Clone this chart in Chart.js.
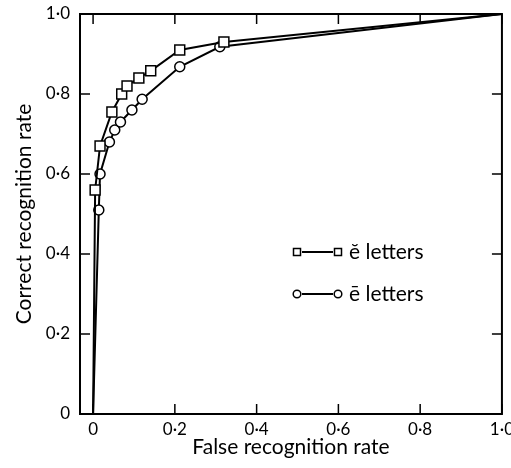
<!DOCTYPE html>
<html>
<head>
<meta charset="utf-8">
<script src="https://cdn.jsdelivr.net/npm/chart.js@4/dist/chart.umd.min.js"></script>
<style>
  html, body { margin: 0; padding: 0; background: #fff; }
  #wrap { width: 511px; height: 468px; }
</style>
</head>
<body>
<div id="wrap"><canvas id="rocChart" width="511" height="468"></canvas></div>
<script>
// short-e letters (squares)
const shortX = [0, 0.005, 0.017, 0.046, 0.07, 0.083, 0.112, 0.141, 0.212, 0.32, 1.0];
const shortY = [0, 0.56, 0.67, 0.755, 0.80, 0.82, 0.84, 0.858, 0.91, 0.93, 1.0];
// long-e letters (circles)
const longX = [0, 0.014, 0.017, 0.04, 0.053, 0.067, 0.095, 0.12, 0.212, 0.31, 1.0];
const longY = [0, 0.51, 0.60, 0.68, 0.71, 0.73, 0.76, 0.787, 0.868, 0.918, 1.0];

const tickValues = [0, 0.2, 0.4, 0.6, 0.8, 1.0];
const tickLabels = ["0", "0·2", "0·4", "0·6", "0·8", "1·0"];
const seriesNames = ["ĕ letters", "ē letters"];

const FONT = "Lato, 'Open Sans', sans-serif";

function toPoints(xs, ys) {
  return xs.map((x, i) => ({ x: x, y: ys[i] }));
}

function hideEnds(ctx) {
  const n = ctx.dataset.data.length;
  return (ctx.dataIndex === 0 || ctx.dataIndex === n - 1) ? 0 : ctx.dataset.markerSize;
}

// frame, inward ticks and the legend
const framePlugin = {
  id: "frame",
  afterDraw(chart) {
    const c = chart.ctx;
    const a = chart.chartArea;
    const xs = chart.scales.x, ys = chart.scales.y;
    c.save();
    c.strokeStyle = "#000";
    c.lineWidth = 2;
    c.strokeRect(a.left, a.top, a.right - a.left, a.bottom - a.top);
    c.lineWidth = 1.5;
    c.beginPath();
    tickValues.forEach(v => {
      const px = xs.getPixelForValue(v);
      c.moveTo(px, a.bottom); c.lineTo(px, a.bottom - 10);
      c.moveTo(px, a.top); c.lineTo(px, a.top + 10);
      const py = ys.getPixelForValue(v);
      c.moveTo(a.left, py); c.lineTo(a.left + 10, py);
      c.moveTo(a.right, py); c.lineTo(a.right - 10, py);
    });
    c.stroke();

    // legend
    const rows = [
      { y: 252, shape: "rect" },
      { y: 294, shape: "circle" }
    ];
    c.font = "21px " + FONT;
    c.textBaseline = "middle";
    rows.forEach((r, i) => {
      const x0 = 297, x1 = 338;
      c.lineWidth = 2;
      c.beginPath(); c.moveTo(x0 + 5, r.y); c.lineTo(x1 - 5, r.y); c.stroke();
      c.lineWidth = 1.5;
      [x0, x1].forEach(px => {
        c.beginPath();
        if (r.shape === "rect") c.rect(px - 3.5, r.y - 3.5, 7, 7);
        else c.arc(px, r.y, 3.8, 0, Math.PI * 2);
        c.fillStyle = "#fff"; c.fill(); c.stroke();
      });
      c.fillStyle = "#000";
      c.fillText(seriesNames[i], 349, r.y);
    });
    c.restore();
  }
};

new Chart(document.getElementById("rocChart"), {
  type: "line",
  data: {
    datasets: [
      {
        label: seriesNames[0],
        data: toPoints(shortX, shortY),
        borderColor: "#000",
        borderWidth: 2,
        pointStyle: "rect",
        markerSize: 7,
        pointRadius: hideEnds,
        pointBackgroundColor: "#fff",
        pointBorderColor: "#000",
        pointBorderWidth: 1.5,
        tension: 0
      },
      {
        label: seriesNames[1],
        data: toPoints(longX, longY),
        borderColor: "#000",
        borderWidth: 2,
        pointStyle: "circle",
        markerSize: 5,
        pointRadius: hideEnds,
        pointBackgroundColor: "#fff",
        pointBorderColor: "#000",
        pointBorderWidth: 1.5,
        tension: 0
      }
    ]
  },
  options: {
    responsive: false,
    animation: false,
    layout: { padding: { top: 14, right: 8, left: 0, bottom: 0 } },
    plugins: {
      legend: { display: false },
      tooltip: { enabled: false }
    },
    scales: {
      x: {
        type: "linear",
        min: -0.032,
        max: 1.0,
        afterFit: s => { s.height = 54; },
        afterBuildTicks: s => { s.ticks = tickValues.map(v => ({ value: v })); },
        grid: { display: false },
        border: { display: false },
        ticks: {
          color: "#000",
          font: { family: FONT, size: 17 },
          padding: -3,
          maxRotation: 0,
          callback: (v) => tickLabels[tickValues.indexOf(v)]
        },
        title: {
          display: true,
          text: "False recognition rate",
          color: "#000",
          font: { family: FONT, size: 21 },
          padding: { top: 4, bottom: 8 }
        }
      },
      y: {
        type: "linear",
        min: 0,
        max: 1.0,
        afterFit: s => { s.width = 80; },
        afterBuildTicks: s => { s.ticks = tickValues.map(v => ({ value: v })); },
        grid: { display: false },
        border: { display: false },
        ticks: {
          color: "#000",
          font: { family: FONT, size: 17 },
          padding: 2,
          callback: (v) => tickLabels[tickValues.indexOf(v)]
        },
        title: {
          display: true,
          text: "Correct recognition rate",
          color: "#000",
          font: { family: FONT, size: 21 },
          padding: { top: 12, bottom: 0 }
        }
      }
    }
  },
  plugins: [framePlugin]
});
</script>
</body>
</html>
